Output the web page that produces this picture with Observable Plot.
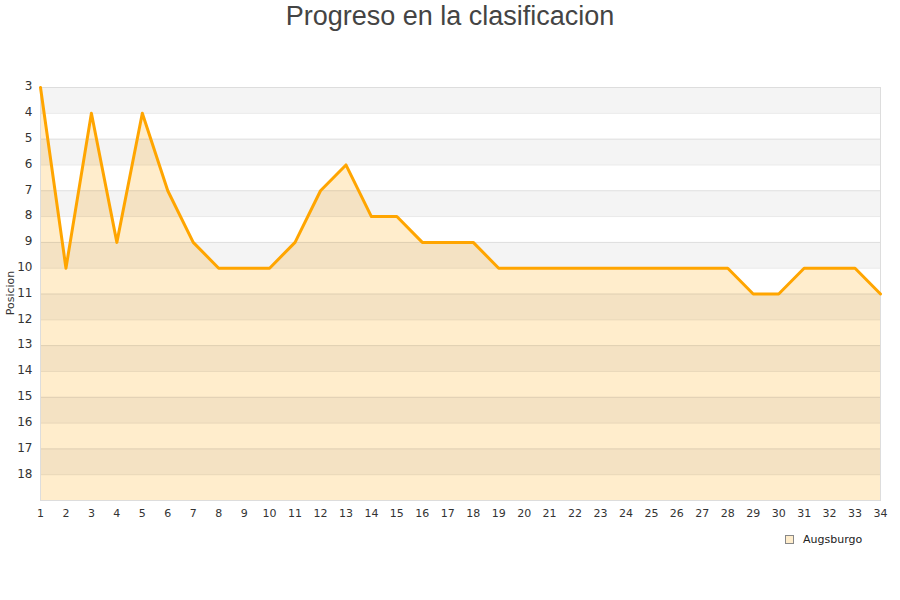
<!DOCTYPE html>
<html><head><meta charset="utf-8">
<script src="https://cdn.jsdelivr.net/npm/d3@7"></script>
<script src="https://cdn.jsdelivr.net/npm/@observablehq/plot@0.6"></script>
<style>
body{margin:0;background:#fff;}
#wrap{position:relative;width:900px;height:600px;font-family:"DejaVu Sans",sans-serif;}
#title{position:absolute;left:0;top:0;width:900px;text-align:center;font-family:"Liberation Sans",Arial,sans-serif;font-size:27px;color:#444;line-height:32px;}
#legend{position:absolute;left:785px;top:533px;font-size:11px;color:#222;display:flex;align-items:center;}
#legend span.sw{display:inline-block;width:7px;height:7px;background:#ffedcc;border:1px solid #888;margin-right:9px;}
#ylabel{position:absolute;left:10px;top:293px;font-size:11px;color:#333;transform:translate(-50%,-50%) rotate(-90deg);white-space:nowrap;}
</style>
</head><body>
<div id="wrap">
<div id="title">Progreso en la clasificacion</div>
<div id="chart"></div>
<div id="ylabel">Posicion</div>
<div id="legend"><span class="sw"></span>Augsburgo</div>
</div>
<script>
const jornadas = [1,2,3,4,5,6,7,8,9,10,11,12,13,14,15,16,17,18,19,20,21,22,23,24,25,26,27,28,29,30,31,32,33,34];
const posiciones = [3,10,4,9,4,7,9,10,10,10,9,7,6,8,8,9,9,9,10,10,10,10,10,10,10,10,10,10,11,11,10,10,10,11];
const yTicks = [3,4,5,6,7,8,9,10,11,12,13,14,15,16,17,18];
const bandStarts = [3,5,7,9,11,13,15,17];
const equipo = "Augsburgo";

const data = jornadas.map((j,i)=>({j, p: posiciones[i]}));
const bands = bandStarts.map(b=>({y1:b, y2:b+1}));

const chart = Plot.plot({
  width: 900, height: 600,
  marginTop: 87, marginBottom: 100, marginLeft: 40, marginRight: 20,
  style: {fontFamily: "DejaVu Sans, sans-serif", fontSize: "11px", color: "#333", background: "transparent"},
  x: {domain: [1,34], ticks: jornadas, tickFormat: d=>d, label: null, tickSize: 0, tickPadding: 8},
  y: {domain: [3,19], reverse: true, ticks: yTicks, tickFormat: d=>d, label: null, tickSize: 0, tickPadding: 8},
  marks: [
    Plot.areaY(data, {x: "j", y1: 19, y2: "p", fill: "#ffedcc"}),
    Plot.rectY(bands, {x1: 1, x2: 34, y1: "y1", y2: "y2", fill: "#000", fillOpacity: 0.045}),
    Plot.ruleY(yTicks, {stroke: "#000", strokeOpacity: 0.09}),
    Plot.frame({stroke: "#ddd"}),
    Plot.line(data, {x: "j", y: "p", stroke: "#ffa500", strokeWidth: 3}),
    Plot.axisY({ticks: yTicks, tickSize: 0, tickPadding: 8, fontSize: 12, tickFormat: d=>d, label: null, dy: -1}),
    Plot.axisX({ticks: jornadas, tickSize: 0, tickPadding: 8, fontSize: 11, tickFormat: d=>d, label: null, dy: 1})
  ]
});
document.getElementById("chart").appendChild(chart);
</script>
</body></html>
